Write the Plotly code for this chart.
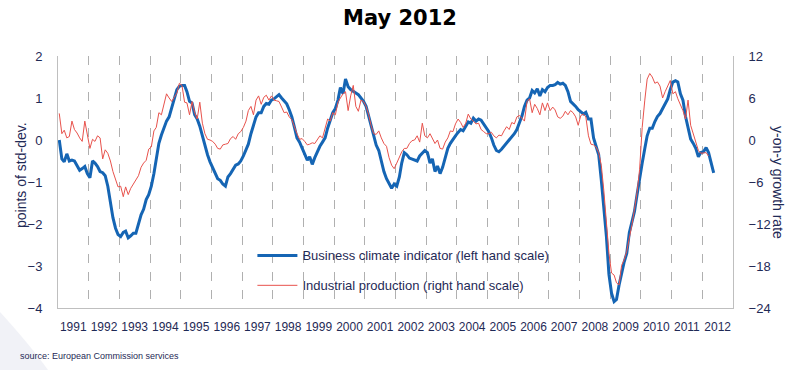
import pandas as pd
import plotly.graph_objects as go

# Business climate indicator (points of std-dev.), monthly Jan 1991 - May 2012
bci = [
    0.0, -0.45, -0.52, -0.33, -0.5, -0.48, -0.5, -0.6, -0.72, -0.68, -0.63, -0.8,      # 1991
    -0.9, -0.5, -0.55, -0.63, -0.75, -0.78, -0.85, -1.1, -1.5, -1.85, -2.1, -2.25,     # 1992
    -2.3, -2.2, -2.17, -2.33, -2.28, -2.22, -2.22, -2.0, -1.78, -1.65, -1.42, -1.3,    # 1993
    -1.1, -0.8, -0.45, -0.08, 0.12, 0.3, 0.45, 0.55, 0.75, 1.0, 1.2, 1.28,             # 1994
    1.3, 1.3, 1.15, 0.92, 0.88, 0.6, 0.5, 0.33, 0.1, -0.15, -0.35, -0.52,              # 1995
    -0.65, -0.82, -0.92, -0.96, -1.05, -1.1, -0.88, -0.8, -0.7, -0.6, -0.57, -0.5,     # 1996
    -0.38, -0.25, -0.1, 0.15, 0.35, 0.55, 0.65, 0.65, 0.8, 0.87, 0.85, 0.95,           # 1997
    0.98, 1.03, 1.08, 1.0, 0.92, 0.86, 0.72, 0.55, 0.3, 0.05, -0.05, -0.18,            # 1998
    -0.35, -0.48, -0.4, -0.58, -0.42, -0.27, -0.15, -0.05, 0.05, 0.28, 0.45, 0.65,     # 1999
    0.75, 0.95, 1.25, 1.1, 1.45, 1.27, 1.2, 1.15, 1.12, 1.08, 1.0, 0.92,               # 2000
    0.8, 0.55, 0.3, 0.05, -0.12, -0.25, -0.5, -0.75, -0.92, -1.05, -1.15, -1.05,       # 2001
    -1.1, -0.88, -0.55, -0.3, -0.35, -0.43, -0.45, -0.48, -0.5, -0.38, -0.3, -0.25,    # 2002
    -0.3, -0.55, -0.45, -0.75, -0.62, -0.8, -0.65, -0.42, -0.2, -0.08, 0.02, 0.1,      # 2003
    0.18, 0.25, 0.22, 0.33, 0.43, 0.4, 0.52, 0.45, 0.5, 0.47, 0.38, 0.3,               # 2004
    0.2, 0.05, -0.12, -0.25, -0.28, -0.22, -0.15, -0.08, 0.0, 0.08, 0.15, 0.25,        # 2005
    0.4, 0.58, 0.8, 0.95, 1.0, 1.18, 1.12, 1.22, 1.05, 1.2, 1.15, 1.25,                # 2006
    1.3, 1.3, 1.32, 1.37, 1.33, 1.35, 1.3, 1.15, 0.92, 0.87, 0.8, 0.72,                # 2007
    0.66, 0.62, 0.66, 0.5, 0.5, 0.05, -0.15, -0.35, -0.95, -1.55, -2.3, -3.2,          # 2008
    -3.65, -3.85, -3.8, -3.45, -3.15, -2.9, -2.7, -2.2, -1.95, -1.7, -1.3, -0.9,       # 2009
    -0.55, -0.2, 0.1, 0.28, 0.28, 0.44, 0.56, 0.63, 0.75, 0.87, 0.98, 1.2,             # 2010
    1.38, 1.41, 1.38, 1.1, 0.95, 0.56, 0.3, 0.02, -0.08, -0.2, -0.4, -0.3,             # 2011
    -0.28, -0.18, -0.3, -0.55, -0.78,                                                  # 2012
]

# Industrial production (y-on-y growth rate, %), monthly Jan 1991 - Mar 2012
ip = [
    3.8, 0.9, 1.4, 0.3, 0.5, 2.7, 1.5, 1.0, 0.3, -0.2, 2.7, 0.6,          # 1991
    -1.2, 0.1, -0.2, 0.6, 0.3, -2.7, -1.4, -1.9, -3.0, -4.5, -5.7, -6.7,  # 1992
    -6.6, -8.1, -6.7, -7.8, -6.9, -6.3, -5.7, -5.1, -3.9, -3.3, -2.9, -1.3,  # 1993
    -1.0, 1.3, 1.8, 3.9, 3.6, 5.1, 6.6, 6.0, 5.5, 6.1, 6.7, 8.1,          # 1994
    7.8, 5.4, 5.3, 3.6, 5.5, 3.9, 3.0, 5.4, 2.4, 0.9, 0.1, 0.0,           # 1995
    -0.2, -0.6, -1.2, -1.3, -0.7, -0.6, -0.5, 0.2, 0.5, 0.1, 0.9, 1.2,    # 1996
    1.8, 2.7, 4.2, 4.8, 3.6, 5.7, 6.3, 5.1, 6.1, 6.4, 5.7, 6.3,           # 1997
    5.7, 5.6, 5.5, 4.7, 3.9, 4.0, 3.3, 2.9, 1.8, 0.9, 0.1, 0.2,           # 1998
    -0.2, -0.7, -0.6, -0.4, -0.5, 0.0, 0.6, 0.3, 1.8, 3.0, 2.7, 3.9,      # 1999
    3.6, 5.4, 6.0, 6.6, 6.9, 4.2, 6.3, 7.8, 4.8, 4.1, 5.7, 5.5,           # 2000
    4.8, 3.6, 2.1, 0.9, 0.8, 1.3, 0.3, -0.5, -0.9, -2.5, -3.6, -4.1,      # 2001
    -3.3, -2.4, -1.7, -1.2, -1.2, -0.5, -0.1, 0.0, 0.6, -0.3, 2.4, 0.6,   # 2002
    0.3, 0.9, 0.3, -0.5, 0.0, -1.2, -1.3, -0.3, 0.3, 1.3, 1.2, 2.3,       # 2003
    3.0, 2.5, 1.8, 2.4, 3.7, 3.0, 2.7, 2.3, 2.4, 1.5, 1.2, 0.9,           # 2004
    0.9, 1.1, 0.6, 0.3, 0.7, 0.6, 1.3, 1.9, 1.5, 2.5, 2.3, 3.3,           # 2005
    3.5, 3.0, 2.7, 5.5, 5.9, 3.9, 5.1, 4.5, 3.6, 5.3, 4.2, 5.3,           # 2006
    4.2, 4.7, 4.3, 3.3, 3.1, 3.4, 4.1, 3.6, 4.2, 3.9, 3.3, 2.1,           # 2007
    3.5, 3.7, 3.3, 0.6, -0.6, -0.7, -1.0, -1.8, -3.6, -7.2, -11.7, -16.2, # 2008
    -19.0, -19.3, -20.4, -20.7, -17.9, -17.1, -15.9, -14.1, -12.1, -9.9, -7.5, -4.2,  # 2009
    1.8, 5.7, 8.7, 9.5, 9.0, 8.1, 8.3, 7.7, 6.0, 6.9, 7.8, 8.5,           # 2010
    6.6, 6.9, 5.9, 5.0, 4.2, 3.0, 5.7, 2.1, 0.9, -0.1, -1.5, -1.9,        # 2011
    -1.8, -1.8, -2.3,                                                     # 2012
]

years = list(range(1991, 2013))
year_labels = [str(y) for y in years]
left_ticks = [-4, -3, -2, -1, 0, 1, 2]
right_ticks = [-24, -18, -12, -6, 0, 6, 12]

months_bci = pd.date_range("1991-01-01", periods=len(bci), freq="MS") + pd.Timedelta(days=15)
months_ip = pd.date_range("1991-01-01", periods=len(ip), freq="MS") + pd.Timedelta(days=15)

NAVY = "#1f2a56"
AXIS = "#bfbfbf"
FONT = "Liberation Sans, Arial, sans-serif"

# plot area in pixels (for placing text in paper coordinates)
L, R, T, B = 58, 733, 56, 308
PW, PH = R - L, B - T


def px(x):
    return (x - L) / PW


def py(y):
    return (B - y) / PH


fig = go.Figure()
fig.add_trace(go.Scatter(
    x=months_bci, y=bci, mode="lines", name="Business climate indicator (left hand scale)",
    line=dict(color="#1565b4", width=3), legendgroup="a", yaxis="y"))
fig.add_trace(go.Scatter(
    x=months_ip, y=ip, mode="lines", name="Industrial production (right hand scale)",
    line=dict(color="#e8524c", width=1), legendgroup="b", yaxis="y2"))

fig.update_layout(
    width=792, height=370,
    margin=dict(l=L, r=792 - R, t=T, b=370 - B, autoexpand=False),
    paper_bgcolor="white", plot_bgcolor="white",
    font=dict(family=FONT, color=NAVY, size=13),
    title=dict(text="<b>May 2012</b>", x=0.505, xanchor="center", y=1 - 18 / 370, yanchor="middle",
               font=dict(family="DejaVu Sans, Verdana, sans-serif", size=21, color="#000000")),
    showlegend=True,
    legend=dict(x=0.288, y=0.268, xanchor="left", yanchor="top", bgcolor="rgba(0,0,0,0)",
                font=dict(size=13, color=NAVY), tracegroupgap=10, itemwidth=40),
    xaxis=dict(
        type="date", range=["1991-01-01", "2013-01-01"],
        tickmode="array", tickvals=[f"{y}-07-02" for y in years], ticktext=year_labels,
        ticks="", showgrid=False, showline=True, linecolor=AXIS, linewidth=1,
        tickfont=dict(size=12, color=NAVY), ticklabelstandoff=8,
        minor=dict(tickmode="array", tickvals=[f"{y}-01-01" for y in years[1:]],
                   showgrid=True, gridcolor="#b0b0b0", griddash="dash", gridwidth=1, ticks=""),
        zeroline=False,
    ),
    yaxis=dict(
        range=[-4, 2], tickmode="array", tickvals=left_ticks, showgrid=False, zeroline=False,
        showline=True, linecolor=AXIS, linewidth=1, ticks="", ticklabelstandoff=12,
        tickfont=dict(size=13, color=NAVY),
    ),
    yaxis2=dict(
        range=[-24, 12], tickmode="array", tickvals=right_ticks, overlaying="y", side="right",
        showgrid=False, zeroline=False, showline=True, linecolor=AXIS, linewidth=1, ticks="",
        ticklabelstandoff=12, tickfont=dict(size=13, color=NAVY),
    ),
    shapes=[dict(type="path", xref="paper", yref="paper", layer="below", line=dict(width=0),
                 fillcolor="#f1f2f7",
                 path=f"M {px(0)},{py(312)} Q {px(30)},{py(345)} {px(48)},{py(370)} "
                      f"L {px(0)},{py(370)} Z")],
    annotations=[
        dict(text="points of std-dev.", xref="paper", yref="paper",
             x=px(21), y=py(175), xanchor="center", yanchor="middle",
             textangle=-90, showarrow=False, font=dict(size=14, color=NAVY)),
        dict(text="y-on-y growth rate", xref="paper", yref="paper",
             x=px(778), y=py(182), xanchor="center", yanchor="middle",
             textangle=90, showarrow=False, font=dict(size=14, color=NAVY)),
        dict(text="source: European Commission services", xref="paper", yref="paper",
             x=px(18), y=py(356), xanchor="left", yanchor="middle", showarrow=False,
             font=dict(size=9, color=NAVY)),
    ],
)

fig.write_html("out.html", config={"displayModeBar": False},
               post_script="document.body.style.margin='0';")
